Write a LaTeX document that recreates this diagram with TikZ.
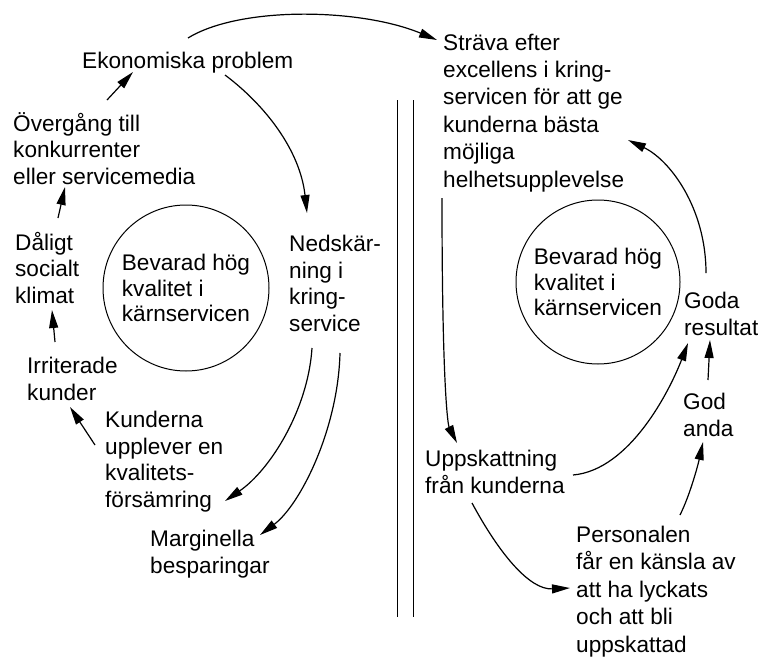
\documentclass[tikz,border=0pt]{standalone}
\usepackage{fontspec}
\setmainfont{Liberation Sans}
\usetikzlibrary{arrows.meta}
\begin{document}
\begin{tikzpicture}[x=1pt,y=-1pt,
  txt/.style={anchor=base west,align=left,inner sep=0pt,font=\fontsize{22.6}{26.5}\selectfont},
  wide/.style={font=\fontsize{22.6}{27.4}\selectfont},
  ring/.style={draw,circle,line width=1pt,inner sep=0pt,align=left,font=\fontsize{22.6}{25.5}\selectfont},
  arr/.style={line width=1.2pt,-{Triangle[length=18pt,width=9pt]}},
  sep/.style={line width=1pt}]
\useasboundingbox (0,0) rectangle (758,659);
% texts (anchor = baseline of the last line)
\node[txt] (ekon)   at (82,68)   {Ekonomiska problem};
\node[txt] (overg)  at (13,184)  {Övergång till\\konkurrenter\\eller servicemedia};
\node[txt] (daligt) at (15,303)  {Dåligt\\socialt\\klimat};
\node[txt] (irrit)  at (27,400)  {Irriterade\\kunder};
\node[txt] (kund)   at (105,507) {Kunderna\\upplever en\\kvalitets-\\försämring};
\node[txt] (marg)   at (150,573) {Marginella\\besparingar};
\node[txt] (ned)    at (289,331) {Nedskär-\\ning i\\kring-\\service};
\node[ring,minimum size=166pt] (circL) at (186,288) {Bevarad hög\\kvalitet i\\kärnservicen};
\node[txt,wide] (strava) at (443,187) {Sträva efter\\excellens i kring-\\servicen för att ge\\kunderna bästa\\möjliga\\helhetsupplevelse};
\node[ring,minimum size=164pt] (circR) at (598,282) {Bevarad hög\\kvalitet i\\kärnservicen};
\node[txt] (goda)   at (684,335) {Goda\\resultat};
\node[txt] (god)    at (683,436) {God\\anda};
\node[txt] (upps)   at (425,493) {Uppskattning\\från kunderna};
\node[txt,wide] (pers) at (576,652) {Personalen\\får en känsla av\\att ha lyckats\\och att bli\\uppskattad};
% separators
\draw[sep] (397,100) -- (397,617);
\draw[sep] (413,100) -- (413,617);
% left loop
\draw[arr] ([shift={(106,-30)}]ekon.base west) .. controls +(52,-32) and +(-77,-32) .. ([shift={(-6,-147)}]strava.base west);
\draw[arr] ([shift={(143,7)}]ekon.base west) .. controls +(40,30) and +(-7,-63) .. ([shift={(18,-118)}]ned.base west);
\draw[arr] ([shift={(23,17)}]ned.base west) .. controls +(-4,62) and +(45,-31) .. ([shift={(120,-6)}]kund.base west);
\draw[arr] ([shift={(51,22)}]ned.base west) .. controls +(-2,77) and +(40,-30) .. ([shift={(110,-38)}]marg.base west);
\draw[arr] ([shift={(-10,-62)}]kund.base west) -- ([shift={(43,7)}]irrit.base west);
\draw[arr] ([shift={(28,-58)}]irrit.base west) -- ([shift={(37,7)}]daligt.base west);
\draw[arr] ([shift={(43,-85)}]daligt.base west) -- ([shift={(52,3)}]overg.base west);
\draw[arr] ([shift={(94,-84)}]overg.base west) -- ([shift={(51,4)}]ekon.base west);
% right loop
\draw[arr] ([shift={(-1,11)}]strava.base west) .. controls +(0,190) and +(-9,-18) .. ([shift={(32,-50)}]upps.base west);
\draw[arr] ([shift={(148,-18)}]upps.base west) .. controls +(57,-5) and +(-18,47) .. ([shift={(4,8)}]goda.base west);
\draw[arr] ([shift={(25,-56)}]god.base west) -- ([shift={(26,5)}]goda.base west);
\draw[arr] ([shift={(104,-137)}]pers.base west) .. controls +(10,-20) and +(-5,23) .. ([shift={(20,6)}]god.base west);
\draw[arr] ([shift={(47,10)}]upps.base west) .. controls +(28,52) and +(-40,2) .. ([shift={(-6,-64)}]pers.base west);
\draw[arr] ([shift={(22,-62)}]goda.base west) .. controls +(0,-65) and +(42,20) .. ([shift={(185,-47)}]strava.base west);
\end{tikzpicture}
\end{document}
